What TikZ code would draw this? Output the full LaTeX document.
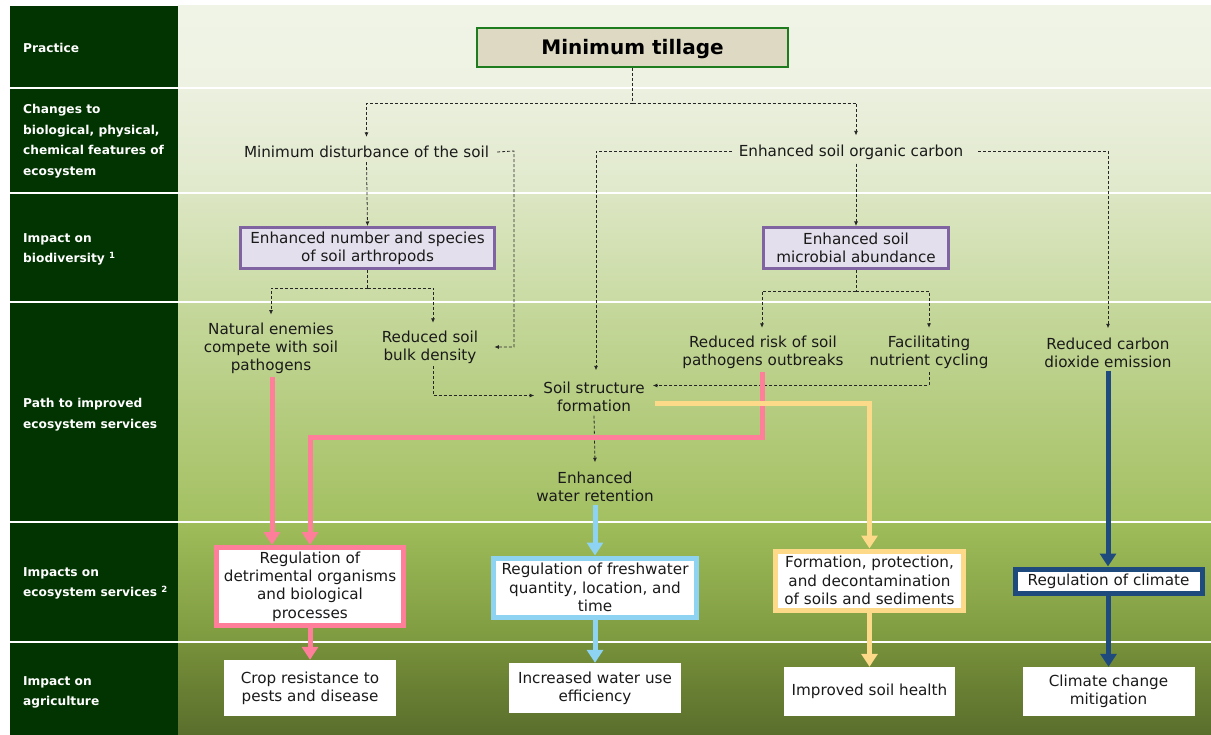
\documentclass[tikz,border=0pt]{standalone}
\usepackage{fontspec}
\setmainfont{DejaVu Sans}
\usetikzlibrary{arrows.meta}
\definecolor{colL}{HTML}{023402}
\definecolor{gA}{HTML}{F0F4E7}
\definecolor{gB}{HTML}{EEF2E2}
\definecolor{gC}{HTML}{ECF0DF}
\definecolor{gD}{HTML}{E0E9CB}
\definecolor{gE}{HTML}{DCE6C3}
\definecolor{gF}{HTML}{CADBA4}
\definecolor{gG}{HTML}{C6D89D}
\definecolor{gH}{HTML}{A3C061}
\definecolor{gI}{HTML}{9FBD5A}
\definecolor{gJ}{HTML}{7E9A40}
\definecolor{gK}{HTML}{77913A}
\definecolor{gL}{HTML}{5A6E2C}
\definecolor{beige}{HTML}{DDD9C3}
\definecolor{tillgreen}{HTML}{1E7B1E}
\definecolor{purpfill}{HTML}{E4DFEC}
\definecolor{purpline}{HTML}{8064A2}
\definecolor{pinkc}{HTML}{FF7F9B}
\definecolor{bluec}{HTML}{8ED4F2}
\definecolor{yelc}{HTML}{FDD98A}
\definecolor{navyc}{HTML}{1F4A7E}
\definecolor{txtc}{HTML}{1A1A1A}
\begin{document}
\begin{tikzpicture}[x=1pt,y=-1pt,
  lbl/.style={anchor=west, align=left, text=white, inner sep=0pt,
    font=\bfseries\fontsize{12.2}{20.5}\selectfont},
  txt/.style={align=center, inner sep=2pt, text=txtc,
    font=\fontsize{15.2}{18.3}\selectfont},
  boxtxt/.style={align=center, inner sep=1pt, text=txtc, fill=white,
    font=\fontsize{15.2}{18.3}\selectfont},
  purpbox/.style={boxtxt, fill=purpfill, draw=purpline, line width=3pt},
  dsh/.style={draw=black!85, line width=0.8pt, dash pattern=on 3pt off 2pt},
  dar/.style={dsh, -{Latex[length=4.5pt,width=4pt]}},
  fat/.style={line width=5pt, -{Triangle[width=16pt,length=13pt]}},
  sep/.style={draw=white, line width=2.5pt}
]
\useasboundingbox (0,0) rectangle (1211,735);
\fill[white] (0,0) rectangle (1211,735);
% background bands
\fill[colL] (10,6) rectangle (178,735);
\shade[top color=gA,bottom color=gB] (178,6) rectangle (1211,88);
\shade[top color=gC,bottom color=gD] (178,88) rectangle (1211,193);
\shade[top color=gE,bottom color=gF] (178,193) rectangle (1211,302);
\shade[top color=gG,bottom color=gH] (178,302) rectangle (1211,522);
\shade[top color=gI,bottom color=gJ] (178,522) rectangle (1211,642);
\shade[top color=gK,bottom color=gL] (178,642) rectangle (1211,735);
\foreach \yy in {88,193,302,522,642} \draw[sep] (10,\yy) -- (1211,\yy);

% left labels
\node[lbl] (l1) at (23,47.5) {Practice};
\node[lbl] (l2) at (23,141) {Changes to\\biological, physical,\\chemical features of\\ecosystem};
\node[lbl] (l3) at (23,249.5) {Impact on\\biodiversity \textsuperscript{1}};
\node[lbl] (l4) at (23,414.5) {Path to improved\\ecosystem services};
\node[lbl] (l5) at (23,583.5) {Impacts on\\ecosystem services \textsuperscript{2}};
\node[lbl] (l6) at (23,692.5) {Impact on\\agriculture};

% top box
\node[draw=tillgreen, fill=beige, line width=1.6pt, minimum width=311pt, minimum height=39pt,
  text height=14.6pt, text depth=-2pt,
  font=\bfseries\fontsize{20}{24}\selectfont, text=black] (mt) at (632.5,47.5) {Minimum tillage};

% level 2
\node[txt] (mds) at (366.5,152) {Minimum disturbance of the soil};
\node[txt] (esoc) at (851,152) {Enhanced soil organic carbon};

% level 3
\node[purpbox, minimum width=254pt, minimum height=41pt] (arth) at (367.5,248) {Enhanced number and species\\of soil arthropods};
\node[purpbox, minimum width=185pt, minimum height=41pt] (micro) at (856,248) {Enhanced soil\\microbial abundance};

% level 4
\node[txt] (nat) at (271,348.5) {Natural enemies\\compete with soil\\pathogens};
\node[txt] (rsb) at (430,347.5) {Reduced soil\\bulk density};
\node[txt] (ssf) at (594,396.5) {Soil structure\\formation};
\node[txt] (ewr) at (595,486.5) {Enhanced\\water retention};
\node[txt] (rrsp) at (763,352.5) {Reduced risk of soil\\pathogens outbreaks};
\node[txt] (fnc) at (929,352.5) {Facilitating\\nutrient cycling};
\node[txt] (rcde) at (1108,352.5) {Reduced carbon\\dioxide emission};

% level 5
\node[boxtxt, draw=pinkc, line width=5pt, minimum width=187pt, minimum height=78pt] (reg1) at (310,586.5) {Regulation of\\detrimental organisms\\and biological\\processes};
\node[boxtxt, draw=bluec, line width=5pt, minimum width=203pt, minimum height=59pt] (reg2) at (595,587.5) {Regulation of freshwater\\quantity, location, and\\time};
\node[boxtxt, draw=yelc, line width=5pt, minimum width=188pt, minimum height=59pt] (form) at (869.5,580.5) {Formation, protection,\\and decontamination\\of soils and sediments};
\node[boxtxt, draw=navyc, line width=5pt, minimum width=187pt, minimum height=24pt] (clim) at (1108.5,581) {Regulation of climate};

% level 6
\node[boxtxt, minimum width=172pt, minimum height=56pt] (crop) at (310,688) {Crop resistance to\\pests and disease};
\node[boxtxt, minimum width=172pt, minimum height=50pt] (water) at (595,688) {Increased water use\\efficiency};
\node[boxtxt, minimum width=171pt, minimum height=49pt] (soil) at (869.5,691.5) {Improved soil health};
\node[boxtxt, minimum width=172pt, minimum height=49pt] (ccm) at (1108.5,691.5) {Climate change\\mitigation};

% junction coordinates
\coordinate (jt) at (632.5,103);
\coordinate (c1) at (514,151);
\coordinate (c2) at (514,347);
\coordinate (ja) at (367.5,288);
\coordinate (jm) at (856,291);
\coordinate (pk) at (310,437);

% dashed connectors
\draw[dsh] (mt.south) -- (jt);
\draw[dar] (jt) -| ([yshift=7pt]mds.north);
\draw[dar] (jt) -| ([xshift=5pt,yshift=7pt]esoc.north);
\draw[dar] ([yshift=-2pt]mds.south) -- (arth.north);
\draw[dar] ([xshift=6pt]mds.east) -- (c1) -- (c2) -- ([xshift=14pt]rsb.east |- c2);
\draw[dar] ([xshift=-5pt,yshift=1pt]esoc.west) -| ([xshift=2pt,yshift=9pt]ssf.north);
\draw[dar] ([xshift=13pt,yshift=1pt]esoc.east) -| ([yshift=7pt]rcde.north);
\draw[dar] ([xshift=5pt,yshift=-2pt]esoc.south) -- (micro.north);
\draw[dsh] (arth.south) -- (ja);
\draw[dar] (ja) -| ([yshift=6pt]nat.north);
\draw[dar] (ja) -| ([xshift=3pt,yshift=6pt]rsb.north);
\draw[dsh] (micro.south) -- (jm);
\draw[dar] (jm) -| ([xshift=-1pt,yshift=6pt]rrsp.north);
\draw[dar] (jm) -| ([yshift=6pt]fnc.north);
\draw[dar] ([xshift=3pt]rsb.south) |- ([xshift=-7pt,yshift=1pt]ssf.west);
\draw[dar] ([yshift=-1pt]fnc.south) |- ([xshift=6pt,yshift=11pt]ssf.east);
\draw[dar] ([yshift=-2pt]ssf.south) -- ([yshift=7pt]ewr.north);

% coloured connectors
\draw[fat, draw=pinkc] ([xshift=1pt,yshift=-1pt]nat.south) -- ([xshift=1pt]nat.south |- reg1.north);
\draw[fat, draw=pinkc] ([xshift=-1pt,yshift=-1pt]rrsp.south) |- (pk) -- (reg1.north);
\draw[fat, draw=pinkc] (reg1.south) -- (crop.north);
\draw[fat, draw=bluec] ([yshift=-1pt]ewr.south) -- (reg2.north);
\draw[fat, draw=bluec] (reg2.south) -- (water.north);
\draw[fat, draw=yelc] ([xshift=8pt,yshift=-7pt]ssf.east) -| (form.north);
\draw[fat, draw=yelc] (form.south) -- (soil.north);
\draw[fat, draw=navyc] ([yshift=-1pt]rcde.south) -- (rcde.south |- clim.north);
\draw[fat, draw=navyc] (clim.south) -- (ccm.north);
\end{tikzpicture}
\end{document}
